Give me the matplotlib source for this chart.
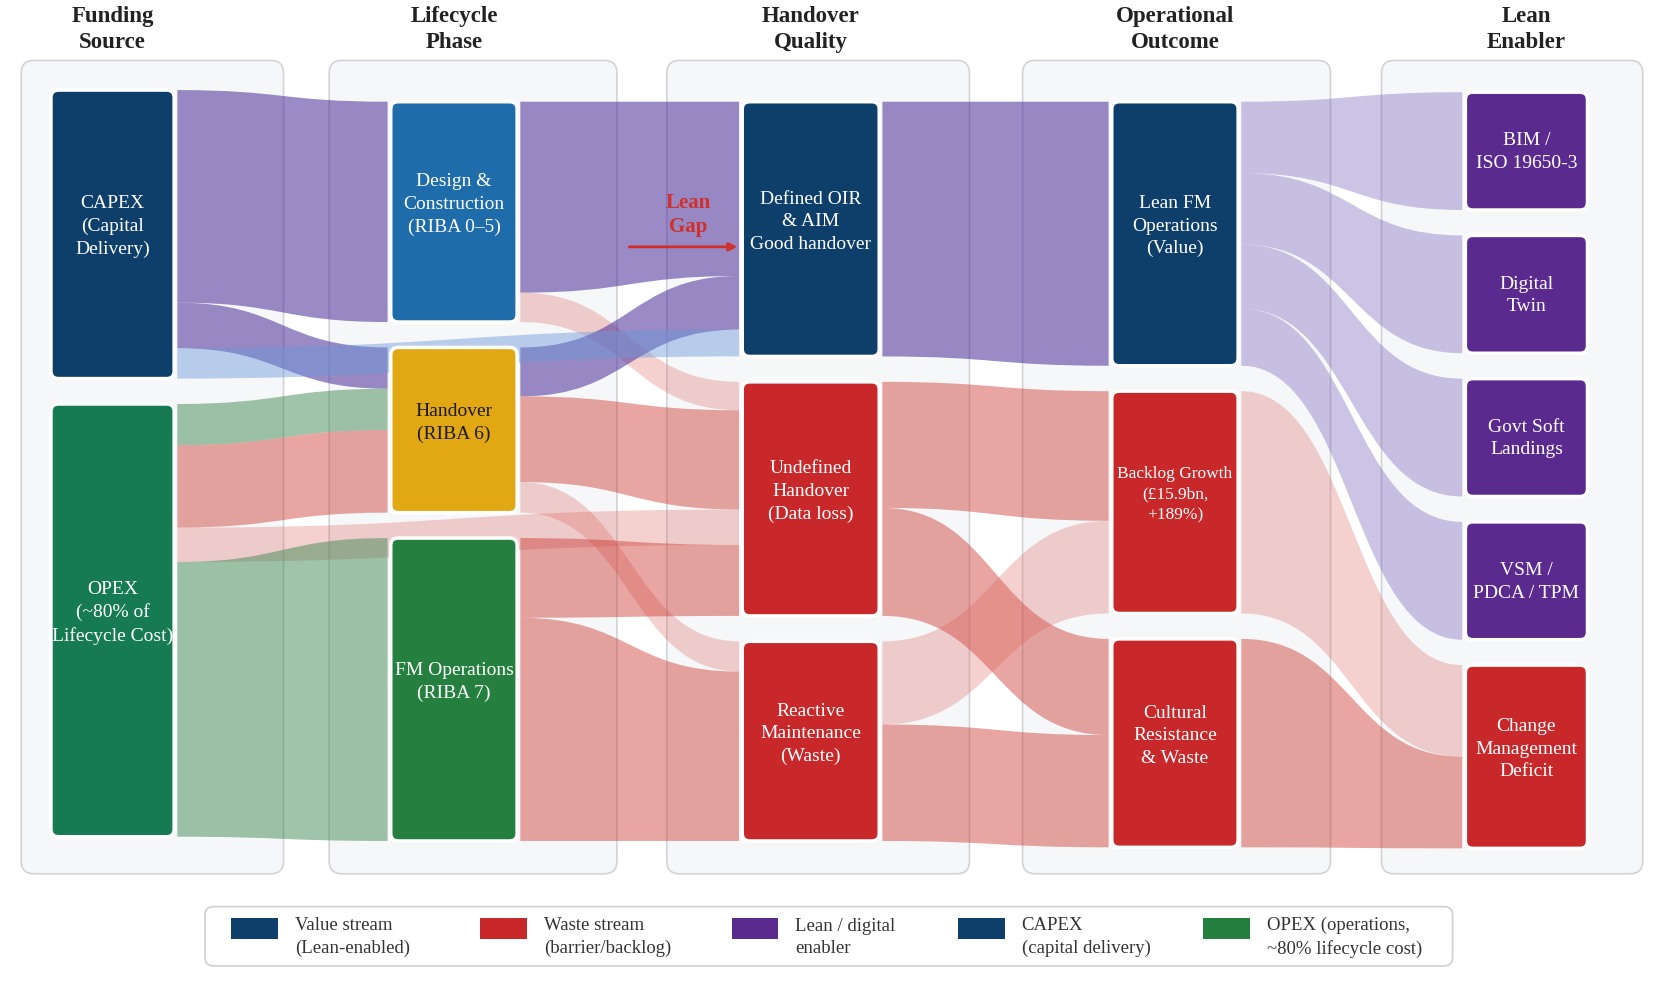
import matplotlib
matplotlib.use("Agg")
import matplotlib.pyplot as plt
from matplotlib.patches import FancyBboxPatch, PathPatch
from matplotlib.path import Path

plt.rcParams['font.family'] = ['Liberation Serif', 'DejaVu Serif']

# ---------------- DATA ----------------

stage_titles = ["Funding\nSource", "Lifecycle\nPhase", "Handover\nQuality",
                "Operational\nOutcome", "Lean\nEnabler"]

node_ids = ["capex", "opex", "design", "handover", "fm",
            "defined", "undefined", "reactive",
            "leanfm", "backlog", "cultural",
            "bim", "twin", "gsl", "vsm", "change"]
node_labels = ["CAPEX\n(Capital\nDelivery)", "OPEX\n(~80% of\nLifecycle Cost)",
               "Design &\nConstruction\n(RIBA 0–5)", "Handover\n(RIBA 6)",
               "FM Operations\n(RIBA 7)",
               "Defined OIR\n& AIM\nGood handover", "Undefined\nHandover\n(Data loss)",
               "Reactive\nMaintenance\n(Waste)",
               "Lean FM\nOperations\n(Value)", "Backlog Growth\n(£15.9bn,\n+189%)",
               "Cultural\nResistance\n& Waste",
               "BIM /\nISO 19650-3", "Digital\nTwin", "Govt Soft\nLandings",
               "VSM /\nPDCA / TPM", "Change\nManagement\nDeficit"]
node_stage = [0, 0, 1, 1, 1, 2, 2, 2, 3, 3, 3, 4, 4, 4, 4, 4]
node_values = [40, 60, 32, 24, 44, 37, 34, 29, 38, 32, 30, 18, 18, 18, 18, 28]
node_kind = ["capex", "opex", "design", "handover", "fm",
             "value", "waste", "waste", "value", "waste", "waste",
             "enabler", "enabler", "enabler", "enabler", "waste"]

# links, in stacking order
link_source = ["capex", "capex", "opex", "opex", "design", "design",
               "handover", "handover", "handover", "capex", "opex", "opex",
               "fm", "fm",
               "defined", "undefined", "undefined", "reactive", "reactive",
               "leanfm", "leanfm", "leanfm", "leanfm", "backlog", "cultural"]
link_target = ["design", "handover", "handover", "handover", "defined", "undefined",
               "defined", "undefined", "reactive", "defined", "undefined", "fm",
               "undefined", "reactive",
               "leanfm", "backlog", "cultural", "backlog", "cultural",
               "bim", "twin", "gsl", "vsm", "change", "change"]
link_value = [28, 6, 6, 12, 26, 4,
              8, 14, 5, 4, 5, 40,
              10, 28,
              40, 14, 12, 10, 14,
              10, 10, 9, 8, 12, 12]
link_kind = ["purple", "purple", "green", "red", "purple", "pink",
             "purple", "red", "pink", "sky", "pink", "green",
             "red", "red",
             "purple", "red", "red", "pink", "red",
             "lilac", "lilac", "lilac", "lilac", "pink", "red"]

legend_labels = ["Value stream\n(Lean-enabled)", "Waste stream\n(barrier/backlog)",
                 "Lean / digital\nenabler", "CAPEX\n(capital delivery)",
                 "OPEX (operations,\n~80% lifecycle cost)"]
legend_kind = ["value", "waste", "enabler", "capex", "fm"]

# ---------------- STYLE / LAYOUT ----------------

node_colors = {"capex": "#0e3f6b", "value": "#0e3f6b", "design": "#1f6cab",
               "handover": "#e2a814", "opex": "#167a52", "fm": "#25803f",
               "waste": "#c9282a", "enabler": "#5b2a8e"}
link_colors = {"purple": (0.32, 0.21, 0.61, 0.58),
               "lilac": (0.45, 0.36, 0.72, 0.36),
               "green": (0.22, 0.52, 0.30, 0.48),
               "red": (0.80, 0.22, 0.19, 0.45),
               "pink": (0.86, 0.36, 0.33, 0.28),
               "sky": (0.42, 0.60, 0.86, 0.45)}

W, H = 1568, 948
col_x = [(48, 164), (368, 487), (699, 828), (1047, 1166), (1380, 1495)]
col_span = [(86, 791), (97, 795), (97, 795), (97, 801), (88, 802)]
panel_x = [(20, 267), (310, 581), (628, 913), (963, 1253), (1301, 1547)]
panel_y = (58, 826)
gap = 24

fig = plt.figure(figsize=(16.65, 10.04), dpi=100)
ax = fig.add_axes([0, 0, 1, 1])
ax.set_xlim(0, W)
ax.set_ylim(H, 0)
ax.axis("off")

# node geometry
node_box = {}
for s in range(5):
    members = [i for i, st in enumerate(node_stage) if st == s]
    top, bot = col_span[s]
    scale = (bot - top - gap * (len(members) - 1)) / sum(node_values[i] for i in members)
    y = top
    for i in members:
        h = node_values[i] * scale
        node_box[node_ids[i]] = (col_x[s][0], col_x[s][1], y, y + h)
        y += h + gap

# panels
for (x0, x1) in panel_x:
    ax.add_patch(FancyBboxPatch((x0, panel_y[0]), x1 - x0, panel_y[1] - panel_y[0],
                                boxstyle="round,pad=0,rounding_size=12",
                                fc="#f6f7f9", ec="#d2d3d8", lw=1.2, zorder=0))

# headers
for s, title in enumerate(stage_titles):
    cx = (col_x[s][0] + col_x[s][1]) / 2
    ax.text(cx, 28, title, ha="center", va="center", fontsize=16.5,
            fontweight="bold", color="#222222", linespacing=1.3)

# links
out_sum, in_sum = {}, {}
for s_, t_, v in zip(link_source, link_target, link_value):
    out_sum[s_] = out_sum.get(s_, 0) + v
    in_sum[t_] = in_sum.get(t_, 0) + v
out_off = {k: 0.0 for k in node_ids}
in_off = {k: 0.0 for k in node_ids}

for s_, t_, v, kind in zip(link_source, link_target, link_value, link_kind):
    sx0, sx1, sy0, sy1 = node_box[s_]
    tx0, tx1, ty0, ty1 = node_box[t_]
    ws = (sy1 - sy0) * v / out_sum[s_]
    wt = (ty1 - ty0) * v / in_sum[t_]
    a0 = sy0 + out_off[s_]
    b0 = ty0 + in_off[t_]
    out_off[s_] += ws
    in_off[t_] += wt
    xs, xt = sx1 + 3, tx0 - 3
    xm = (xs + xt) / 2
    verts = [(xs, a0), (xm, a0), (xm, b0), (xt, b0),
             (xt, b0 + wt), (xm, b0 + wt), (xm, a0 + ws), (xs, a0 + ws), (xs, a0)]
    codes = [Path.MOVETO, Path.CURVE4, Path.CURVE4, Path.CURVE4,
             Path.LINETO, Path.CURVE4, Path.CURVE4, Path.CURVE4, Path.CLOSEPOLY]
    ax.add_patch(PathPatch(Path(verts, codes), fc=link_colors[kind], ec="none", zorder=1))

# nodes
for i, nid in enumerate(node_ids):
    x0, x1, y0, y1 = node_box[nid]
    ax.add_patch(FancyBboxPatch((x0, y0), x1 - x0, y1 - y0,
                                boxstyle="round,pad=0,rounding_size=7",
                                fc=node_colors[node_kind[i]], ec="white", lw=2.5, zorder=3))
    fs = 12.5 if nid == "backlog" else 14
    tc = "#1b1b1b" if nid == "handover" else "white"
    dy = -8 if (y1 - y0) > 150 else 0
    ax.text((x0 + x1) / 2, (y0 + y1) / 2 + dy, node_labels[i], ha="center", va="center",
            fontsize=fs, color=tc, linespacing=1.42, zorder=4)

# lean gap annotation
ax.text(648, 203, "Lean\nGap", ha="center", va="center", fontsize=15,
        fontweight="bold", color="#d0302a", linespacing=1.3, zorder=5)
ax.annotate("", xy=(697, 234), xytext=(590, 234), zorder=5,
            arrowprops=dict(arrowstyle="-|>", color="#d0302a", lw=2, mutation_scale=12))

# legend
ax.add_patch(FancyBboxPatch((193, 857), 1175, 56, boxstyle="round,pad=0,rounding_size=8",
                            fc="white", ec="#cfd0d6", lw=1.2, zorder=2))
swatch_x = [218, 452, 689, 902, 1133]
for sx, lab, kind in zip(swatch_x, legend_labels, legend_kind):
    ax.add_patch(plt.Rectangle((sx, 868), 44, 20, fc=node_colors[kind], ec="none", zorder=3))
    ax.text(sx + 60, 885, lab, ha="left", va="center", fontsize=13.5,
            color="#333333", linespacing=1.4, zorder=3)

fig.savefig("out.png", dpi=100, facecolor="white")
